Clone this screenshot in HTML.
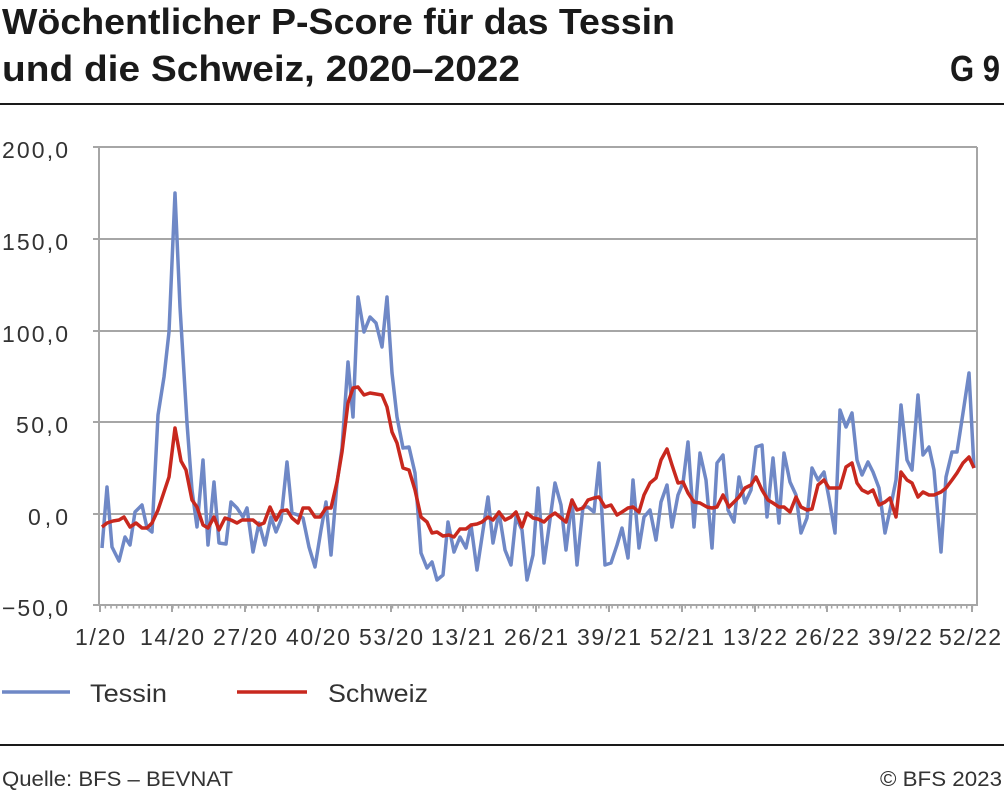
<!DOCTYPE html>
<html><head><meta charset="utf-8"><style>
html,body{margin:0;padding:0;background:#fff;}
svg{display:block;font-family:"Liberation Sans",sans-serif;}
</style></head><body>
<svg width="1004" height="793" viewBox="0 0 1004 793" xmlns="http://www.w3.org/2000/svg">
<text x="2" y="34" font-size="36" font-weight="bold" fill="#1a1a1a" textLength="673" lengthAdjust="spacingAndGlyphs">Wöchentlicher P-Score für das Tessin</text>
<text x="2" y="81" font-size="36" font-weight="bold" fill="#1a1a1a" textLength="518" lengthAdjust="spacingAndGlyphs">und die Schweiz, 2020–2022</text>
<text x="1000" y="81" font-size="36" font-weight="bold" fill="#1a1a1a" text-anchor="end" textLength="50" lengthAdjust="spacingAndGlyphs">G 9</text>
<line x1="0" y1="104" x2="1004" y2="104" stroke="#1a1a1a" stroke-width="2"/>
<g stroke="#a6a6a6" stroke-width="2">
<line x1="93" y1="147" x2="977" y2="147"/>
<line x1="93" y1="239" x2="977" y2="239"/>
<line x1="93" y1="331" x2="977" y2="331"/>
<line x1="93" y1="422" x2="977" y2="422"/>
<line x1="93" y1="514" x2="977" y2="514"/>
<line x1="93" y1="605" x2="977" y2="605"/>
<line x1="99" y1="147" x2="99" y2="606"/>
<line x1="977" y1="147" x2="977" y2="606"/>
</g>
<line x1="99" y1="607" x2="976" y2="607" stroke="#a6a6a6" stroke-width="3" stroke-dasharray="1.5 4.13"/>
<g stroke="#a6a6a6" stroke-width="2">
<line x1="100" y1="605" x2="100" y2="612"/><line x1="172" y1="605" x2="172" y2="612"/><line x1="245" y1="605" x2="245" y2="612"/><line x1="318" y1="605" x2="318" y2="612"/><line x1="391" y1="605" x2="391" y2="612"/><line x1="463" y1="605" x2="463" y2="612"/><line x1="536" y1="605" x2="536" y2="612"/><line x1="609" y1="605" x2="609" y2="612"/><line x1="682" y1="605" x2="682" y2="612"/><line x1="755" y1="605" x2="755" y2="612"/><line x1="827" y1="605" x2="827" y2="612"/><line x1="900" y1="605" x2="900" y2="612"/><line x1="972" y1="605" x2="972" y2="612"/>
</g>
<g font-size="23" fill="#333" text-anchor="end" lengthAdjust="spacingAndGlyphs">
<text x="68" y="158" textLength="66">200,0</text><text x="68" y="250" textLength="66">150,0</text><text x="68" y="342" textLength="66">100,0</text><text x="68" y="433" textLength="52">50,0</text><text x="68" y="525" textLength="40">0,0</text><text x="68" y="616" textLength="66">−50,0</text>
</g>
<g font-size="23" fill="#333" text-anchor="middle">
<text x="100" y="645" textLength="50">1/20</text><text x="172" y="645" textLength="64">14/20</text><text x="245" y="645" textLength="64">27/20</text><text x="318" y="645" textLength="64">40/20</text><text x="391" y="645" textLength="64">53/20</text><text x="463" y="645" textLength="64">13/21</text><text x="536" y="645" textLength="64">26/21</text><text x="609" y="645" textLength="64">39/21</text><text x="682" y="645" textLength="64">52/21</text><text x="755" y="645" textLength="64">13/22</text><text x="827" y="645" textLength="64">26/22</text><text x="900" y="645" textLength="64">39/22</text><text x="970" y="645" textLength="62">52/22</text>
</g>
<polyline fill="none" stroke="#6f88c6" stroke-width="3.5" stroke-linejoin="round" points="102,548 107,487 112,547 119,561 125,537 130,545 135,512 142,505 147,528 152,532 158,415 164,377 169,332 175,193 180,307 187,423 192,490 197,527 203,460 208,545 214,482 219,543 226,544 231,502 237,508 243,517 247,508 253,552 259,523 265,545 271,517 276,532 281,520 287,462 292,513 298,515 303,518 309,547 315,567 321,530 326,502 331,555 337,483 342,448 348,362 353,417 358,297 364,332 370,317 376,323 382,347 387,297 392,373 397,417 403,448 409,447 415,473 421,553 427,568 432,562 437,580 443,575 448,522 454,552 460,537 466,548 471,525 477,570 482,537 488,497 493,543 499,512 505,550 511,565 516,517 522,530 527,580 533,555 538,488 544,563 549,527 555,483 561,505 566,550 572,500 577,565 583,507 588,507 594,512 599,463 605,565 611,563 617,545 622,528 628,558 633,480 639,548 644,517 650,510 656,540 661,502 667,485 672,527 678,495 683,483 688,442 694,527 700,453 706,480 712,548 717,463 723,455 728,510 734,522 739,477 745,503 751,490 756,447 762,445 767,517 773,458 779,523 784,453 790,482 796,495 801,533 807,518 812,468 818,480 824,472 829,498 835,533 840,410 846,427 852,413 857,460 862,475 868,462 873,472 879,488 885,533 890,510 896,480 901,405 907,460 912,470 918,395 923,455 929,447 934,470 941,552 946,477 952,452 957,452 963,413 969,373 974,468"/>
<polyline fill="none" stroke="#c8281e" stroke-width="3.5" stroke-linejoin="round" points="102,527 107,523 113,521 119,520 124,517 130,527 136,523 142,528 147,528 152,523 158,510 164,492 169,477 175,428 181,461 186,470 192,500 197,507 203,525 208,528 214,517 219,530 225,518 231,520 237,523 242,520 248,520 253,520 259,525 264,523 270,507 276,520 281,511 287,510 292,518 298,523 303,508 309,508 315,517 320,517 326,508 331,508 337,482 342,452 348,403 353,388 358,387 364,395 370,393 376,394 382,395 387,407 392,432 397,443 403,468 409,470 415,490 421,517 427,522 432,533 437,532 443,536 449,535 454,537 460,529 466,529 471,525 477,524 482,522 488,517 493,520 499,512 505,520 511,517 516,512 522,527 527,513 533,518 538,519 544,522 549,517 555,513 561,518 566,522 572,500 577,510 583,508 588,500 594,498 599,497 605,507 611,505 617,515 622,512 628,508 633,507 639,512 644,495 650,483 656,478 661,460 667,449 672,465 678,483 683,482 688,493 694,502 700,503 707,507 712,508 717,507 723,495 729,507 734,502 739,497 745,488 751,485 756,477 762,490 768,500 773,503 779,507 784,507 790,512 796,497 801,507 807,510 812,509 818,485 824,480 829,488 835,488 840,488 846,467 852,463 857,483 862,490 868,493 873,490 879,505 885,502 890,498 896,517 901,472 907,480 912,483 918,497 923,492 929,495 934,495 941,492 946,488 952,480 957,473 963,463 969,457 974,468"/>
<line x1="2" y1="692" x2="70" y2="692" stroke="#6f88c6" stroke-width="3.5"/>
<text x="90" y="702" font-size="25" fill="#333" textLength="77" lengthAdjust="spacingAndGlyphs">Tessin</text>
<line x1="237" y1="692" x2="307" y2="692" stroke="#c8281e" stroke-width="3.5"/>
<text x="328" y="702" font-size="25" fill="#333" textLength="100" lengthAdjust="spacingAndGlyphs">Schweiz</text>
<line x1="0" y1="745" x2="1004" y2="745" stroke="#1a1a1a" stroke-width="2"/>
<text x="2" y="786" font-size="21" fill="#333" textLength="231" lengthAdjust="spacingAndGlyphs">Quelle: BFS – BEVNAT</text>
<text x="1002" y="786" font-size="21" fill="#333" text-anchor="end" textLength="122" lengthAdjust="spacingAndGlyphs">© BFS 2023</text>
</svg>
</body></html>
